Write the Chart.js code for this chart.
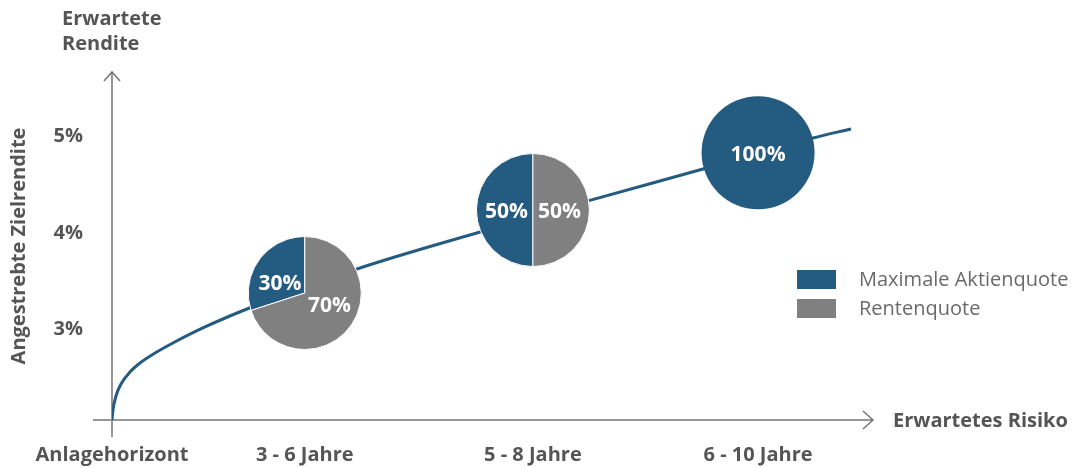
<!DOCTYPE html>
<html lang="de">
<head>
<meta charset="utf-8">
<title>Anlagehorizont</title>
<script src="https://cdn.jsdelivr.net/npm/chart.js@4.4.1/dist/chart.umd.min.js"></script>
<style>
  html, body { margin: 0; padding: 0; background: #fff; }
  #wrap { width: 1074px; height: 468px; }
</style>
</head>
<body>
<div id="wrap"><canvas id="chart" width="1074" height="468"></canvas></div>
<script>
// x axis: horizon categories sit at these risk values
const riskTicks = [0, 2.56, 5.59, 8.58];
const horizonLabels = ['Anlagehorizont', '3 - 6 Jahre', '5 - 8 Jahre', '6 - 10 Jahre'];
const returnTicks = [3, 4, 5];

// efficient curve
const curveRisk = [0, 0.013, 0.053, 0.12, 0.239, 0.372, 0.571, 0.797, 1.235, 1.859, 3.293, 4.887, 6.321, 7.849, 9.309, 9.814];
const curveReturn = [2.062, 2.166, 2.311, 2.435, 2.56, 2.653, 2.756, 2.855, 3.026, 3.233, 3.637, 4.01, 4.332, 4.663, 4.984, 5.078];

// portfolio pies
const pieRisk = [2.56, 5.59, 8.58];
const pieReturn = [3.378, 4.238, 4.832];
const stockShare = [30, 50, 100];
const bondShare = [70, 50, 0];

const seriesNames = ['Maximale Aktienquote', 'Rentenquote'];

const BLUE = '#245b80';
const GREY = '#808080';
const TEXT = '#555555';
const FONT = '"Open Sans", "Noto Sans", sans-serif';

// axes with arrows, titles, legend
const decorPlugin = {
  id: 'decor',
  beforeDatasetsDraw(chart) {
    const { ctx, chartArea: a } = chart;
    ctx.save();
    ctx.strokeStyle = '#777';
    ctx.lineWidth = 1.5;
    ctx.beginPath();
    // y axis
    ctx.moveTo(a.left, a.bottom + 17);
    ctx.lineTo(a.left, a.top);
    ctx.moveTo(a.left - 8, a.top + 9);
    ctx.lineTo(a.left, a.top);
    ctx.lineTo(a.left + 8, a.top + 9);
    // x axis
    ctx.moveTo(a.left - 19, a.bottom);
    ctx.lineTo(a.right + 8, a.bottom);
    ctx.moveTo(a.right - 2, a.bottom - 9);
    ctx.lineTo(a.right + 8, a.bottom);
    ctx.lineTo(a.right - 2, a.bottom + 9);
    ctx.stroke();
    ctx.restore();
  },
  afterDraw(chart) {
    const { ctx, chartArea: a } = chart;
    ctx.save();
    ctx.fillStyle = TEXT;
    ctx.font = 'bold 20px ' + FONT;
    ctx.textBaseline = 'middle';
    ctx.textAlign = 'left';
    ctx.fillText('Erwartete', 62, 19);
    ctx.fillText('Rendite', 62, 44);
    ctx.fillText('Erwartetes Risiko', a.right + 28, a.bottom + 1);

    // legend
    const colors = [BLUE, GREY];
    ctx.font = '20px ' + FONT;
    seriesNames.forEach((name, i) => {
      const y = 270 + i * 29;
      ctx.fillStyle = colors[i];
      ctx.fillRect(797, y, 39, 19);
      ctx.fillStyle = '#6a6a6a';
      ctx.fillText(name, 859, y + 10);
    });
    ctx.restore();
  }
};

// pies drawn at the points of the hidden pie dataset
const piePlugin = {
  id: 'pies',
  afterDatasetsDraw(chart) {
    const { ctx } = chart;
    const meta = chart.getDatasetMeta(1);
    const r = 56.5;
    ctx.save();
    meta.data.forEach((pt, i) => {
      const cx = pt.x, cy = pt.y;
      const top = -Math.PI / 2;
      const stockAng = stockShare[i] / 100 * Math.PI * 2;
      const bondAng = bondShare[i] / 100 * Math.PI * 2;
      const slices = [];
      if (stockShare[i] > 0) slices.push({ color: BLUE, start: top - stockAng, end: top, val: stockShare[i] });
      if (bondShare[i] > 0) slices.push({ color: GREY, start: top, end: top + bondAng, val: bondShare[i] });
      slices.forEach(s => {
        ctx.beginPath();
        if (s.val < 100) ctx.moveTo(cx, cy);
        ctx.arc(cx, cy, r, s.start, s.end);
        ctx.closePath();
        ctx.fillStyle = s.color;
        ctx.fill();
        if (s.val < 100) {
          ctx.strokeStyle = '#fff';
          ctx.lineWidth = 1;
          ctx.stroke();
        }
      });
      ctx.fillStyle = '#fff';
      ctx.font = 'bold 21px ' + FONT;
      ctx.textAlign = 'center';
      ctx.textBaseline = 'middle';
      slices.forEach(s => {
        if (s.val >= 100) {
          ctx.fillText(s.val + '%', cx, cy + 2);
        } else {
          const mid = (s.start + s.end) / 2;
          ctx.fillText(s.val + '%', cx + Math.cbrt(Math.cos(mid)) * r * 0.47, cy + Math.sin(mid) * r * 0.33 + 2);
        }
      });
    });
    ctx.restore();
  }
};

function build() {
  new Chart(document.getElementById('chart'), {
    type: 'scatter',
    data: {
      datasets: [
        {
          label: 'Kurve',
          data: curveRisk.map((x, i) => ({ x: x, y: curveReturn[i] })),
          showLine: true,
          borderColor: BLUE,
          borderWidth: 3,
          pointRadius: 0,
          cubicInterpolationMode: 'monotone',
          fill: false
        },
        {
          label: 'Portfolios',
          data: pieRisk.map((x, i) => ({ x: x, y: pieReturn[i] })),
          pointRadius: 0,
          showLine: false
        }
      ]
    },
    plugins: [decorPlugin, piePlugin],
    options: {
      responsive: false,
      animation: false,
      layout: { padding: { top: 72, right: 209, bottom: 0, left: 0 } },
      plugins: {
        legend: { display: false },
        tooltip: { enabled: false }
      },
      scales: {
        x: {
          type: 'linear',
          min: 0,
          max: 10,
          grid: { display: false, drawTicks: false, tickLength: 0 },
          border: { display: false },
          afterFit: s => { s.height = 48; },
          afterBuildTicks: s => { s.ticks = riskTicks.map(v => ({ value: v })); },
          ticks: {
            autoSkip: false,
            maxRotation: 0,
            padding: 23,
            color: TEXT,
            font: { family: FONT, size: 20, weight: 'bold' },
            callback: (v, i) => horizonLabels[i]
          }
        },
        y: {
          type: 'linear',
          min: 2.062,
          max: 5.668,
          grid: { display: false, drawTicks: false, tickLength: 0 },
          border: { display: false },
          afterFit: s => { s.width = 112; },
          afterBuildTicks: s => { s.ticks = returnTicks.map(v => ({ value: v })); },
          ticks: {
            padding: 29,
            color: TEXT,
            font: { family: FONT, size: 20, weight: 'bold' },
            callback: v => v + '%'
          },
          title: {
            display: true,
            text: 'Angestrebte Zielrendite',
            color: TEXT,
            font: { family: FONT, size: 20, weight: 'bold' },
            padding: { top: 7, bottom: 0 }
          }
        }
      }
    }
  });
}

if (document.fonts && document.fonts.load) {
  Promise.all([
    document.fonts.load('bold 20px "Open Sans"'),
    document.fonts.load('20px "Open Sans"')
  ]).then(build, build);
} else {
  build();
}
</script>
</body>
</html>
